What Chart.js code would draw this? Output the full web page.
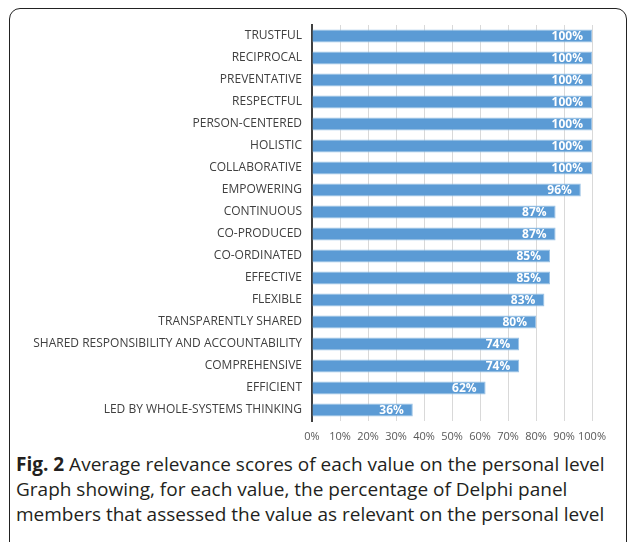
<!DOCTYPE html>
<html lang="en">
<head>
    <meta charset="UTF-8">
    <title>Fig. 2 Average relevance scores</title>
    <script src="https://cdn.jsdelivr.net/npm/chart.js"></script>
    <style>
        body {
            margin: 0;
            width: 627px;
            height: 542px;
            overflow: hidden;
            background: #fff;
        }
        #frame {
            position: absolute;
            left: 9px;
            top: 8px;
            width: 616px;
            height: 560px;
            border: 1.5px solid #222;
            border-radius: 11px;
        }
        #chartBox {
            position: absolute;
            left: 0;
            top: 0;
            width: 627px;
            height: 450px;
        }
        #caption {
            position: absolute;
            left: 16px;
            top: 452px;
            font-family: "Open Sans", sans-serif;
            font-size: 19px;
            line-height: 25px;
            color: #231f20;
            white-space: nowrap;
        }
    </style>
</head>
<body>
    <div id="frame"></div>
    <div id="chartBox">
        <canvas id="relevanceChart" width="627" height="450"></canvas>
    </div>
    <div id="caption">
        <b>Fig. 2</b> Average relevance scores of each value on the personal level<br>
        Graph showing, for each value, the percentage of Delphi panel<br>
        members that assessed the value as relevant on the personal level
    </div>
    <script>
        const categories = [
            'TRUSTFUL', 'RECIPROCAL', 'PREVENTATIVE', 'RESPECTFUL', 'PERSON-CENTERED',
            'HOLISTIC', 'COLLABORATIVE', 'EMPOWERING', 'CONTINUOUS', 'CO-PRODUCED',
            'CO-ORDINATED', 'EFFECTIVE', 'FLEXIBLE', 'TRANSPARENTLY SHARED',
            'SHARED RESPONSIBILITY AND ACCOUNTABILITY', 'COMPREHENSIVE', 'EFFICIENT',
            'LED BY WHOLE-SYSTEMS THINKING'
        ];
        const relevance = [100, 100, 100, 100, 100, 100, 100, 96, 87, 87, 85, 85, 83, 80, 74, 74, 62, 36];
        const xTicks = [0, 10, 20, 30, 40, 50, 60, 70, 80, 90, 100];

        // draws the percentage inside the end of each bar
        const barLabels = {
            id: 'barLabels',
            afterDatasetsDraw(chart) {
                const ctx = chart.ctx;
                const meta = chart.getDatasetMeta(0);
                ctx.save();
                ctx.font = 'bold 12px "Open Sans", sans-serif';
                ctx.fillStyle = '#ffffff';
                ctx.textAlign = 'right';
                ctx.textBaseline = 'middle';
                meta.data.forEach((bar, i) => {
                    ctx.fillText(relevance[i] + '%', bar.x - 9, bar.y + 1);
                });
                ctx.restore();
            }
        };

        const ctx = document.getElementById('relevanceChart').getContext('2d');
        const relevanceChart = new Chart(ctx, {
            type: 'bar',
            data: {
                labels: categories,
                datasets: [{
                    data: relevance,
                    backgroundColor: '#5b9bd5',
                    borderColor: '#9cc3e6',
                    borderWidth: 1,
                    borderSkipped: 'start',
                    barPercentage: 0.58,
                    categoryPercentage: 1
                }]
            },
            options: {
                indexAxis: 'y',
                responsive: false,
                animation: false,
                layout: {
                    padding: { top: 25, right: 35, left: 0, bottom: 0 }
                },
                plugins: {
                    legend: { display: false },
                    tooltip: { enabled: false }
                },
                scales: {
                    x: {
                        min: 0,
                        max: 100,
                        afterBuildTicks(scale) {
                            scale.ticks = xTicks.map(v => ({ value: v }));
                        },
                        afterFit(scale) {
                            scale.height = 29;
                        },
                        ticks: {
                            callback: v => v + '%',
                            color: '#595959',
                            padding: 9,
                            maxRotation: 0,
                            autoSkip: false,
                            font: { family: '"Open Sans", sans-serif', size: 11 }
                        },
                        grid: {
                            color: '#d9d9d9',
                            drawTicks: false
                        },
                        border: { display: false }
                    },
                    y: {
                        afterFit(scale) {
                            scale.width = 312;
                        },
                        ticks: {
                            color: '#404040',
                            padding: 10,
                            autoSkip: false,
                            font: { family: '"Open Sans", sans-serif', size: 12 }
                        },
                        grid: { display: false, drawTicks: false },
                        border: { display: true, color: '#404040', width: 2 }
                    }
                }
            },
            plugins: [barLabels]
        });
    </script>
</body>
</html>
